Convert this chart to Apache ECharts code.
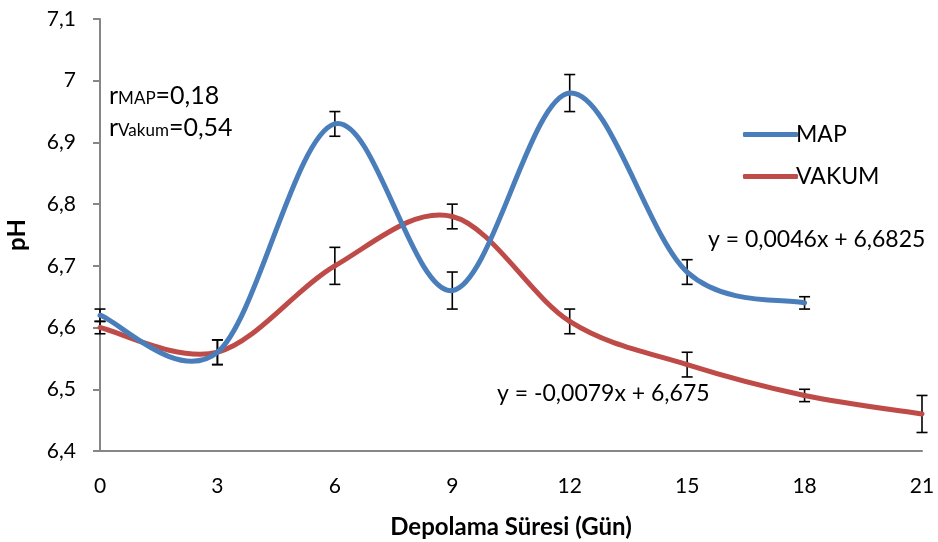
<!DOCTYPE html>
<html><head><meta charset="utf-8">
<script src="https://cdn.jsdelivr.net/npm/echarts@6/dist/echarts.min.js"></script>
<style>html,body{margin:0;padding:0;background:#fff}#c{width:938px;height:542px}</style>
</head><body><div id="c"></div>
<script>
const days = [0, 3, 6, 9, 12, 15, 18, 21];
const xTicks = ['0', '3', '6', '9', '12', '15', '18', '21'];
const mapPH = [6.62, 6.56, 6.93, 6.66, 6.98, 6.69, 6.64];
const mapErr = [0.01, 0.02, 0.02, 0.03, 0.03, 0.02, 0.01];
const vakumPH = [6.60, 6.56, 6.70, 6.78, 6.61, 6.54, 6.49, 6.46];
const vakumErr = [0.01, 0.02, 0.03, 0.02, 0.02, 0.02, 0.01, 0.03];
const yTicks = ['6,4', '6,5', '6,6', '6,7', '6,8', '6,9', '7', '7,1'];

const FONT = 'Lato';
const MAP_COLOR = '#4a7ebb';
const VAK_COLOR = '#be4b48';
const mapLine = mapPH.map((v, i) => [days[i], v]);
const vakLine = vakumPH.map((v, i) => [days[i], v]);
const mapBars = mapPH.map((v, i) => [days[i], v - mapErr[i], v + mapErr[i]]);
const vakBars = vakumPH.map((v, i) => [days[i], v - vakumErr[i], v + vakumErr[i]]);

function errRender(params, api) {
  const x = api.value(0);
  const lo = api.coord([x, api.value(1)]);
  const hi = api.coord([x, api.value(2)]);
  const w = 5.5;
  const st = { stroke: '#000', lineWidth: 1.6 };
  return { type: 'group', children: [
    { type: 'line', shape: { x1: lo[0], y1: lo[1], x2: hi[0], y2: hi[1] }, style: st },
    { type: 'line', shape: { x1: lo[0] - w, y1: lo[1], x2: lo[0] + w, y2: lo[1] }, style: st },
    { type: 'line', shape: { x1: hi[0] - w, y1: hi[1], x2: hi[0] + w, y2: hi[1] }, style: st }
  ]};
}

// Excel-like smoothed line (Catmull-Rom style Bezier) drawn through the chart's own scales
function smoothRender(color) {
  return function (params, api) {
    const n = params.dataInsideLength;
    const i = params.dataIndexInside;
    if (i >= n - 1) return null;
    const P = k => {
      k = Math.max(0, Math.min(n - 1, k));
      return api.coord([api.value(0, k), api.value(1, k)]);
    };
    const p0 = P(i - 1), p1 = P(i), p2 = P(i + 1), p3 = P(i + 2);
    const t = 1 / 6;
    return {
      type: 'bezierCurve',
      shape: {
        x1: p1[0], y1: p1[1], x2: p2[0], y2: p2[1],
        cpx1: p1[0] + (p2[0] - p0[0]) * t, cpy1: p1[1] + (p2[1] - p0[1]) * t,
        cpx2: p2[0] - (p3[0] - p1[0]) * t, cpy2: p2[1] - (p3[1] - p1[1]) * t
      },
      style: { stroke: color, lineWidth: 5, fill: null, lineCap: 'round' }
    };
  };
}

const chart = echarts.init(document.getElementById('c'), null, { renderer: 'canvas' });
chart.setOption({
  animation: false,
  backgroundColor: '#fff',
  textStyle: { fontFamily: FONT },
  grid: { left: 100, right: 16, top: 19, bottom: 91, containLabel: false, outerBoundsMode: 'none' },
  xAxis: {
    type: 'value', min: 0, max: 21, interval: 3,
    name: 'Depolama Süresi (Gün)', nameLocation: 'middle', nameGap: 64,
    nameTextStyle: { fontFamily: FONT, fontWeight: 'bold', fontSize: 24, color: '#000' },
    axisLine: { lineStyle: { color: '#868686', width: 2 } },
    axisTick: { show: false },
    splitLine: { show: false },
    axisLabel: { fontSize: 21, color: '#000', margin: 25,
      formatter: v => xTicks[days.indexOf(v)] }
  },
  yAxis: {
    type: 'value', min: 6.4, max: 7.1, interval: 0.1,
    name: 'pH', nameLocation: 'middle', nameGap: 71, nameRotate: 90,
    nameTextStyle: { fontFamily: FONT, fontWeight: 'bold', fontSize: 24, color: '#000' },
    axisLine: { show: true, lineStyle: { color: '#868686', width: 2 } },
    axisTick: { show: true, length: 7, lineStyle: { color: '#868686', width: 2 } },
    splitLine: { show: false },
    axisLabel: { fontSize: 21, color: '#000', margin: 24,
      formatter: v => yTicks[Math.round((v - 6.4) * 10)] }
  },
  legend: {
    orient: 'vertical', left: 738, top: 118, itemGap: 19,
    itemWidth: 55, itemHeight: 5, icon: 'roundRect',
    textStyle: { fontFamily: FONT, fontSize: 23, color: '#000', padding: [0, 0, 0, -7] },
    data: ['MAP', 'VAKUM']
  },
  series: [
    { type: 'custom', name: 'errMAP', renderItem: errRender, data: mapBars, z: 1, silent: true },
    { type: 'custom', name: 'errVAKUM', renderItem: errRender, data: vakBars, z: 1, silent: true },
    { type: 'custom', name: 'MAP', renderItem: smoothRender(MAP_COLOR), data: mapLine, z: 3,
      itemStyle: { color: MAP_COLOR }, silent: true },
    { type: 'custom', name: 'VAKUM', renderItem: smoothRender(VAK_COLOR), data: vakLine, z: 2,
      itemStyle: { color: VAK_COLOR }, silent: true }
  ],
  graphic: [
    { type: 'text', left: 109, top: 83, style: { text: '{r|r}{s|MAP}{r|=0,18}', rich: {
      r: { fontFamily: FONT, fontSize: 25, fill: '#000', verticalAlign: 'bottom' },
      s: { fontFamily: FONT, fontSize: 17, fill: '#000', verticalAlign: 'bottom', padding: [0, 0, 1, 0] } } } },
    { type: 'text', left: 109, top: 115, style: { text: '{r|r}{s|Vakum}{r|=0,54}', rich: {
      r: { fontFamily: FONT, fontSize: 25, fill: '#000', verticalAlign: 'bottom' },
      s: { fontFamily: FONT, fontSize: 17, fill: '#000', verticalAlign: 'bottom', padding: [0, 0, 1, 0] } } } },
    { type: 'text', left: 708, top: 228, style: { text: 'y = 0,0046x + 6,6825', fontFamily: FONT, fontSize: 23, fill: '#000' } },
    { type: 'text', left: 497, top: 382, style: { text: 'y = -0,0079x + 6,675', fontFamily: FONT, fontSize: 23, fill: '#000' } }
  ]
});
</script></body></html>
